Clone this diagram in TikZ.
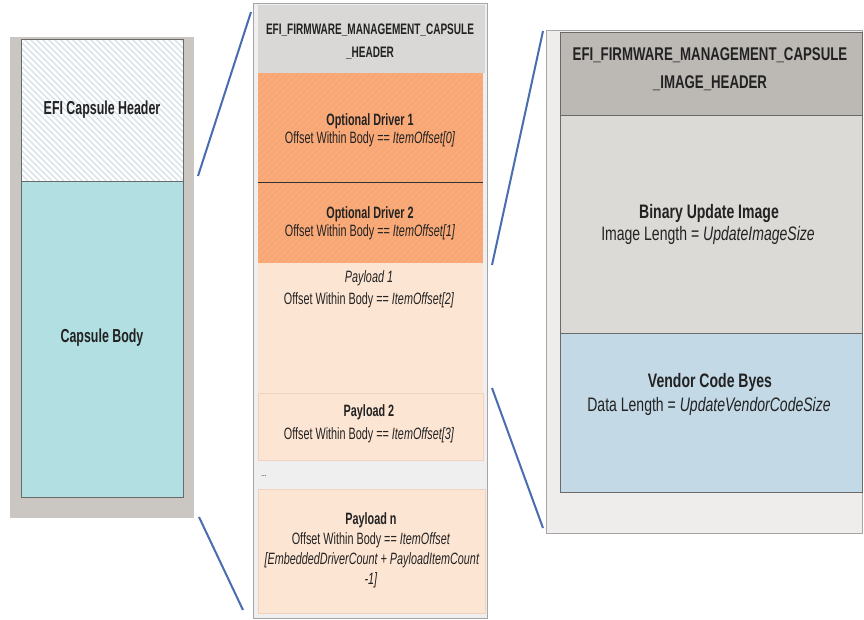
\documentclass[tikz,border=0pt]{standalone}
\usepackage{fontspec}
\setmainfont[FakeStretch=0.72]{Liberation Sans}
\newfontfamily\narrowfont[FakeStretch=0.66]{Liberation Sans}
\definecolor{lframeC}{HTML}{CAC7C2}
\definecolor{lbodyC}{HTML}{B2E0E2}
\definecolor{hatchC}{HTML}{D3E0E6}
\definecolor{mframeC}{HTML}{EFEFEF}
\definecolor{mheadC}{HTML}{D9D8D6}
\definecolor{orangeC}{HTML}{F8A774}
\definecolor{orangeH}{HTML}{FAB48A}
\definecolor{peachC}{HTML}{FDE5D3}
\definecolor{peachE}{HTML}{F0D3BF}
\definecolor{rframeC}{HTML}{EEEDEB}
\definecolor{rheadC}{HTML}{BCB8B4}
\definecolor{rbinC}{HTML}{DCDAD6}
\definecolor{rvenC}{HTML}{C3D9E6}
\definecolor{edgeC}{HTML}{6A6A6A}
\definecolor{frameE}{HTML}{A5A5A5}
\definecolor{connC}{HTML}{4A6CB0}
\definecolor{txtC}{HTML}{222222}
\newcommand\fz[2]{\fontsize{#1}{#2}\selectfont}
\newcommand\blk[6]{\node[blk,#6,minimum width={(#4-#2)*1pt},minimum height={(#5-#3)*1pt}] (#1) at (#2,#3) {};}
\begin{document}
\begin{tikzpicture}[x=1pt,y=-1pt,
  blk/.style={inner sep=0pt,outer sep=0pt,anchor=north west,line width=0.8pt},
  edge/.style={draw=edgeC},
  lt/.style={text=txtC,inner sep=0pt,font=\narrowfont\fz{18.8}{22}\bfseries},
  mh/.style={text=txtC,inner sep=0pt,font=\narrowfont\fz{15.2}{18}\bfseries},
  mt/.style={text=txtC,inner sep=0pt,font=\narrowfont\fz{16.4}{19}\bfseries},
  ms/.style={text=txtC,inner sep=0pt,font=\narrowfont\fz{16.4}{19}},
  rh/.style={text=txtC,inner sep=0pt,font=\fz{18.4}{22}\bfseries},
  rt/.style={text=txtC,inner sep=0pt,font=\fz{19.5}{23}\bfseries},
  rs/.style={text=txtC,inner sep=0pt,font=\fz{19.5}{23}},
  conn/.style={draw=connC,line width=2pt},
  hatchline/.style={draw=hatchC,line width=1.1pt},
  orhatch/.style={draw=orangeH,line width=1.2pt}]
\useasboundingbox (0,0) rectangle (864,619);
\fill[white] (0,0) rectangle (864,619);

% ---------- left column ----------
\blk{lframe}{10}{37}{194}{518}{fill=lframeC}
\blk{lhead}{21}{39}{183}{181}{fill=white}
\begin{scope}
  \clip (21,39) rectangle (183,181);
  \foreach \i in {-126,-120,...,186} \draw[hatchline] (\i,39) -- (\i+142,181);
\end{scope}
\draw[edge,line width=0.8pt] (lhead.north west) rectangle (lhead.south east);
\blk{lbody}{21}{181}{183}{497}{fill=lbodyC,edge}
\node[lt] (tlh) at (102,110) {EFI Capsule Header};
\node[lt] (tlb) at (102,338) {Capsule Body};

% ---------- middle column ----------
\blk{mframe}{253}{3}{487}{618}{fill=mframeC,draw=frameE}
\blk{mhead}{258}{5}{485}{73}{fill=mheadC}
\blk{drv1}{258}{73}{483}{182}{fill=orangeC}
\blk{drv2}{258}{182}{483}{263}{fill=orangeC}
\begin{scope}
  \clip (258,73) rectangle (483,263);
  \foreach \i in {70,76,...,480} \draw[orhatch,opacity=0.5] (\i,263) -- (\i+190,73);
\end{scope}
\draw[black!80,line width=1pt] (drv1.south west) -- (drv1.south east);
\blk{pay1}{258}{263}{483}{393}{fill=peachC}
\blk{pay2}{258}{393}{483}{460}{fill=peachC,draw=peachE}
\blk{payn}{258}{489}{485}{613}{fill=peachC,draw=peachE}

\node[mh] (tmh1) at (370,30) {EFI\_FIRMWARE\_MANAGEMENT\_CAPSULE};
\node[mh] (tmh2) at (370,53) {\_HEADER};
\node[mt] (td1) at (370,121) {Optional Driver 1};
\node[ms] (td1s) at (370,139) {Offset Within Body == \textit{ItemOffset[0]}};
\node[mt] (td2) at (370,214) {Optional Driver 2};
\node[ms] (td2s) at (370,232) {Offset Within Body == \textit{ItemOffset[1]}};
\node[ms,font=\narrowfont\fz{16.4}{19}\itshape] (tp1) at (369,278) {Payload 1};
\node[ms] (tp1s) at (369,300) {Offset Within Body == \textit{ItemOffset[2]}};
\node[mt] (tp2) at (369,412) {Payload 2};
\node[ms] (tp2s) at (369,435) {Offset Within Body == \textit{ItemOffset[3]}};
\node[ms,font=\fz{9}{10}] (tdots) at (264,476) {...};
\node[mt] (tpn) at (371,520) {Payload n};
\node[ms] (tpn2) at (371,540) {Offset Within Body == \textit{ItemOffset}};
\node[ms] (tpn3) at (372,560) {\textit{[EmbeddedDriverCount + PayloadItemCount}};
\node[ms] (tpn4) at (371,580) {\textit{-1]}};

% ---------- right column ----------
\blk{rframe}{546}{30}{862}{533}{fill=rframeC,draw=frameE}
\blk{rhead}{560}{32}{862}{115}{fill=rheadC,edge}
\blk{rbin}{560}{115}{862}{333}{fill=rbinC,edge}
\blk{rven}{560}{333}{862}{492}{fill=rvenC,edge}
\node[rh] (trh1) at (710,55) {EFI\_FIRMWARE\_MANAGEMENT\_CAPSULE};
\node[rh] (trh2) at (710,83) {\_IMAGE\_HEADER};
\node[rt] (tbin) at (709,213) {Binary Update Image};
\node[rs] (tbins) at (708,235) {Image Length = \textit{UpdateImageSize}};
\node[rt] (tven) at (710,382) {Vendor Code Byes};
\node[rs] (tvens) at (709,406) {Data Length = \textit{UpdateVendorCodeSize}};

% ---------- connectors ----------
\coordinate (c1a) at (198,176);
\coordinate (c1b) at (251,12);
\coordinate (c2a) at (199,517);
\coordinate (c2b) at (243,610);
\coordinate (c3a) at (543,31);
\coordinate (c3b) at (492,265);
\coordinate (c4a) at (492,388);
\coordinate (c4b) at (543,528);
\draw[conn] (c1a) -- (c1b);
\draw[conn] (c2a) -- (c2b);
\draw[conn] (c3a) -- (c3b);
\draw[conn] (c4a) -- (c4b);
\end{tikzpicture}
\end{document}
